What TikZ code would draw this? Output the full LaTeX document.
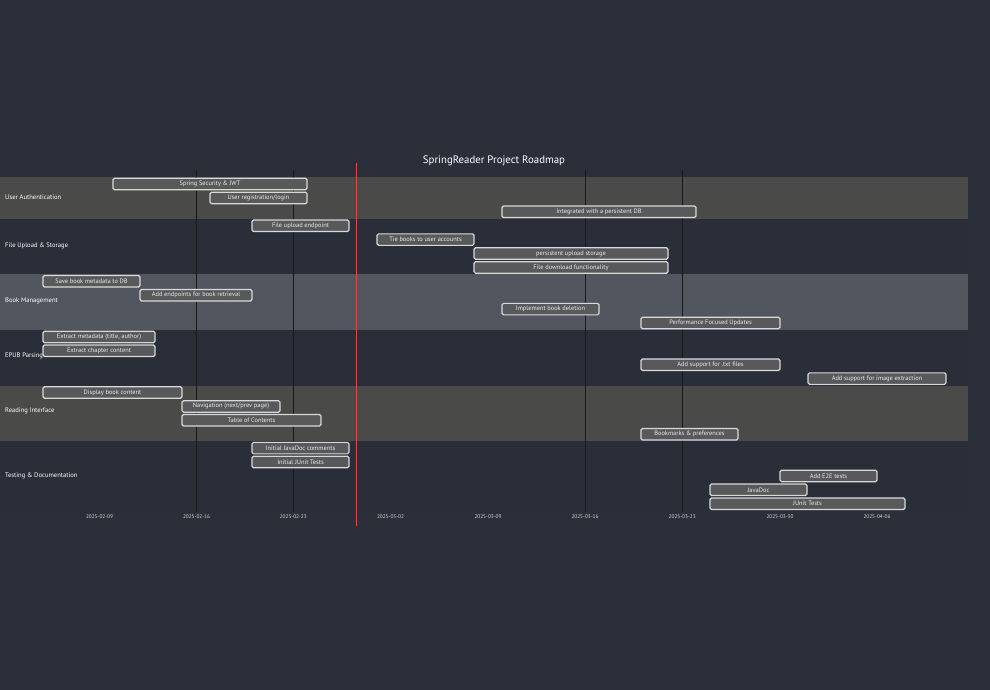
\documentclass[tikz,border=0pt]{standalone}
\usepackage{xcolor}
\usepackage{fontspec}
\setmainfont{PT Sans}

\definecolor{pagebg}{HTML}{2B2F3A}
\definecolor{banda}{HTML}{4A4B48}
\definecolor{bandb}{HTML}{52565E}
\definecolor{bandc}{HTML}{2A2E39}
\definecolor{barfill}{HTML}{58595B}
\definecolor{barline}{HTML}{D9D9D9}
\definecolor{todayred}{HTML}{E0484B}

\begin{document}
\begin{tikzpicture}[x=1pt,y=-1pt,
        bar/.style={draw=barline, fill=barfill, line width=1.2pt, rounded corners=1.5pt,
                    minimum height=11.5pt, inner sep=0pt, text=white!92!black,
                    font=\fontsize{6.4}{7}\selectfont},
        section/.style={anchor=west, inner sep=0pt, text=white, font=\fontsize{6.6}{7}\selectfont},
        datelabel/.style={inner sep=0pt, text=white!85!black, font=\fontsize{5.3}{6}\selectfont},
        gridline/.style={draw=black!90, line width=0.9pt}]
                \fill[pagebg] (0,0) rectangle (990,690);
                \useasboundingbox (0,0) rectangle (990,690);

                \fill[banda] (0,177)   rectangle (968,218.7);
                \fill[bandc] (0,218.7) rectangle (968,274.3);
                \fill[bandb] (0,274.3) rectangle (968,329.9);
                \fill[bandc] (0,329.9) rectangle (968,385.5);
                \fill[banda] (0,385.5) rectangle (968,441.1);
                \fill[bandc] (0,441.1) rectangle (968,510.6);

                \node[text=white, font=\fontsize{10.8}{12}\selectfont] (title) at (494,160.5) {SpringReader Project Roadmap};

                \node[section] (auth)    at (5,197)   {User Authentication};
                \node[section] (upload)  at (5,246)   {File Upload \& Storage};
                \node[section] (books)   at (5,300.5) {Book Management};
                \node[section] (epub)    at (5,356)   {EPUB Parsing};
                \node[section] (reading) at (5,411)   {Reading Interface};
                \node[section] (testing) at (5,475.5) {Testing \& Documentation};

                \coordinate (g16top) at (196.5,170);  \coordinate (g16bot) at (196.5,512);
                \coordinate (g23top) at (293.3,170);  \coordinate (g23bot) at (293.3,512);
                \coordinate (g16mtop) at (585,170);   \coordinate (g16mbot) at (585,512);
                \coordinate (g23mtop) at (682.2,170); \coordinate (g23mbot) at (682.2,512);
                \draw[gridline] (g16top) -- (g16bot);
                \draw[gridline] (g23top) -- (g23bot);
                \draw[gridline] (g16mtop) -- (g16mbot);
                \draw[gridline] (g23mtop) -- (g23mbot);

                \node[datelabel] (d0209) at (99.5,517)  {2025-02-09};
                \node[datelabel] (d0216) at (196.5,517) {2025-02-16};
                \node[datelabel] (d0223) at (293.3,517) {2025-02-23};
                \node[datelabel] (d0302) at (390.5,517) {2025-03-02};
                \node[datelabel] (d0309) at (488,517)   {2025-03-09};
                \node[datelabel] (d0316) at (585,517)   {2025-03-16};
                \node[datelabel] (d0323) at (682.2,517) {2025-03-23};
                \node[datelabel] (d0330) at (780,517)   {2025-03-30};
                \node[datelabel] (d0406) at (877,517)   {2025-04-06};

                \node[bar, minimum width=194pt] (jwt)      at (210,184)     {Spring Security \& JWT};
                \node[bar, minimum width=97pt]  (login)    at (258.5,197.9) {User registration/login};
                \node[bar, minimum width=194pt] (persist)  at (599,211.8)   {Integrated with a persistent DB};

                \node[bar, minimum width=97pt]  (endpoint) at (300.5,225.7) {File upload endpoint};
                \node[bar, minimum width=97pt]  (tie)      at (425.5,239.6) {Tie books to user accounts};
                \node[bar, minimum width=194pt] (storage)  at (571,253.5)   {persistent upload storage};
                \node[bar, minimum width=194pt] (download) at (571,267.4)   {File download functionality};

                \node[bar, minimum width=97pt]  (savemeta) at (91.5,281.3)  {Save book metadata to DB};
                \node[bar, minimum width=112pt] (retrieve) at (196,295.2)   {Add endpoints for book retrieval};
                \node[bar, minimum width=97pt]  (delete)   at (550.5,309.1) {Implement book deletion};
                \node[bar, minimum width=139pt] (perf)     at (710.5,323)   {Performance Focused Updates};

                \node[bar, minimum width=112pt] (extmeta)  at (99,336.9)    {Extract metadata (title, author)};
                \node[bar, minimum width=112pt] (chapter)  at (99,350.8)    {Extract chapter content};
                \node[bar, minimum width=139pt] (txt)      at (710.5,364.7) {Add support for .txt files};
                \node[bar, minimum width=138pt] (images)   at (877,378.6)   {Add support for image extraction};

                \node[bar, minimum width=139pt] (display)  at (112.5,392.5) {Display book content};
                \node[bar, minimum width=98pt]  (navig)    at (231,406.4)   {Navigation (next/prev page)};
                \node[bar, minimum width=139pt] (toc)      at (251.5,420.3) {Table of Contents};
                \node[bar, minimum width=97pt]  (bookmark) at (689.5,434.2) {Bookmarks \& preferences};

                \node[bar, minimum width=97pt]  (javadoc1) at (300.5,448.1) {Initial JavaDoc comments};
                \node[bar, minimum width=97pt]  (junit1)   at (300.5,462)   {Initial JUnit Tests};
                \node[bar, minimum width=97pt]  (etoe)     at (828.5,475.9) {Add E2E tests};
                \node[bar, minimum width=97pt]  (javadoc)  at (758.5,489.8) {JavaDoc};
                \node[bar, minimum width=195pt] (junit)    at (807.5,503.7) {JUnit Tests};

                \coordinate (todaytop) at (356.7,163);
                \coordinate (todaybot) at (356.7,526);
                \draw[todayred, line width=1.3pt] (todaytop) -- (todaybot);
            \end{tikzpicture}
\end{document}
